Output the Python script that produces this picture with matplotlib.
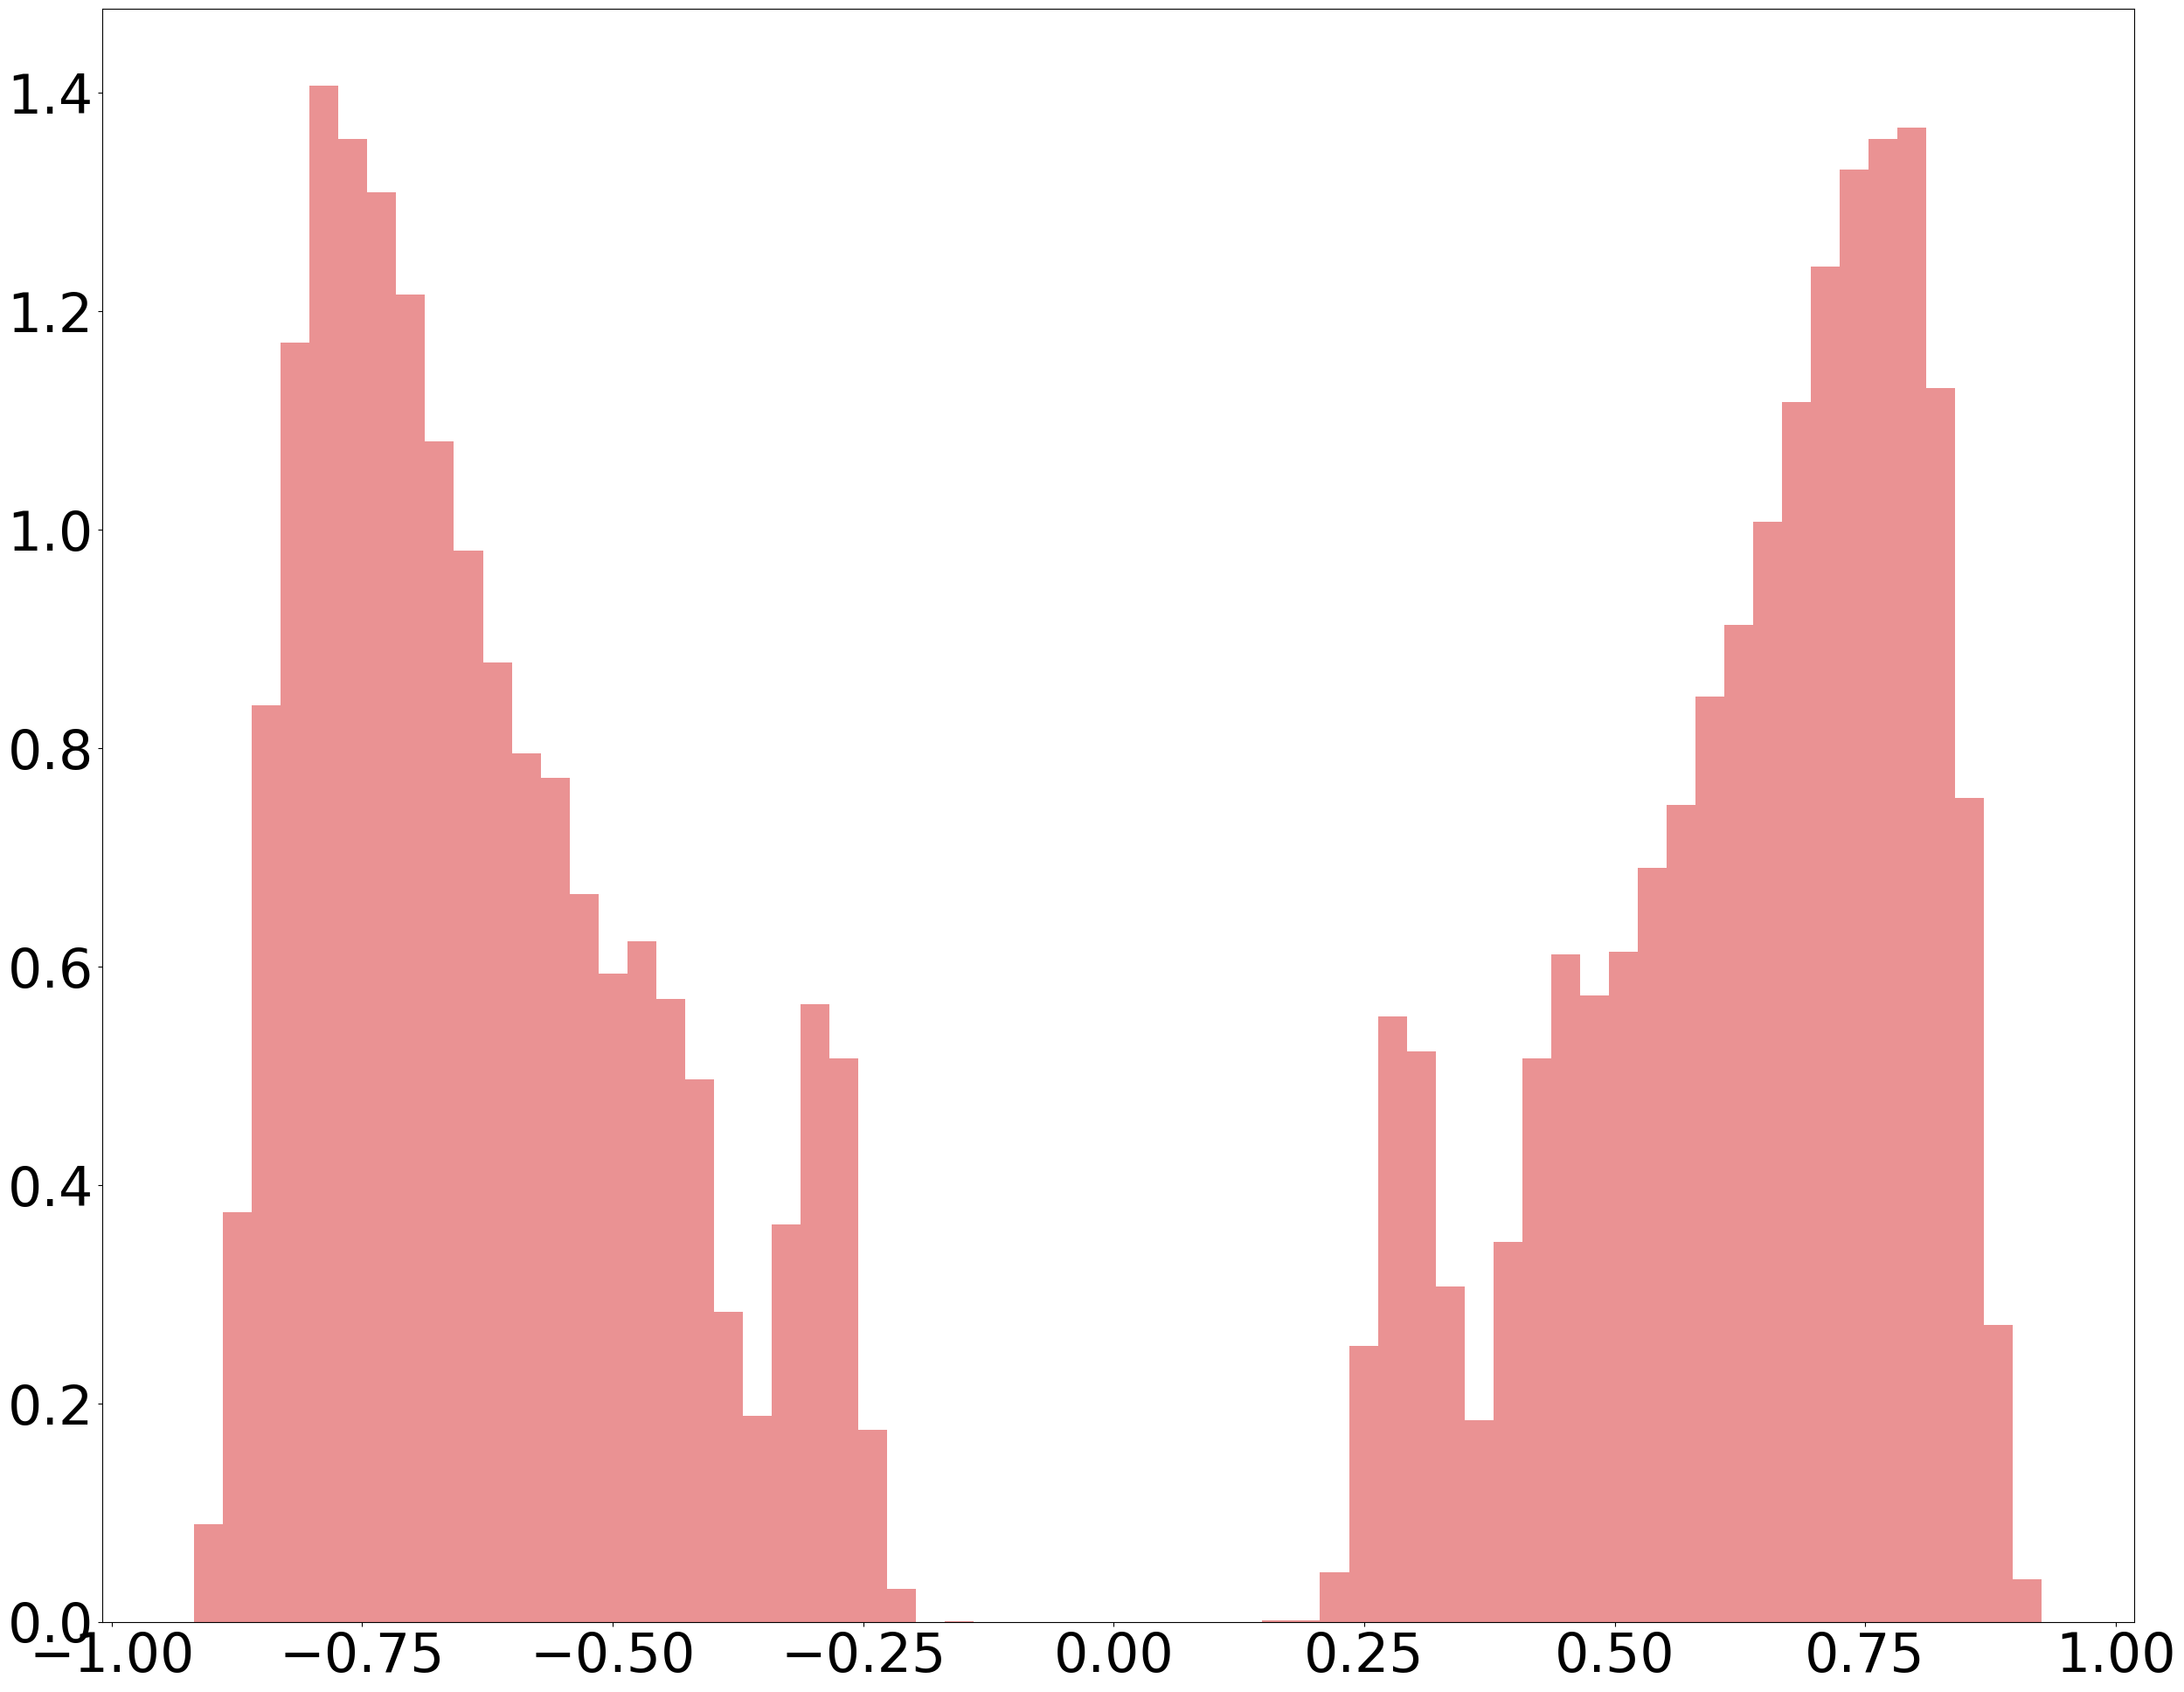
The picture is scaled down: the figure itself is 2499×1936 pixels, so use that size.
import numpy as np
import matplotlib
matplotlib.use("Agg")
import matplotlib.pyplot as plt

# histogram bin layout (64 equal bins)
bin_low = -0.9176
bin_high = 0.9263
n_bins = 64

# density value of each bin
density = [
    0.0898, 0.375, 0.839, 1.171, 1.4065, 1.3576, 1.3087, 1.2152, 1.081, 0.981,
    0.8783, 0.7954, 0.7729, 0.6668, 0.5933, 0.6231, 0.5707, 0.4972, 0.2844, 0.1889,
    0.3639, 0.5654, 0.5164, 0.1757, 0.0306, 0.0, 0.0012, 0.0, 0.0, 0.0,
    0.0, 0.0, 0.0, 0.0, 0.0, 0.0, 0.0, 0.0015, 0.0015, 0.0457,
    0.2526, 0.5548, 0.5223, 0.3076, 0.1849, 0.3480, 0.5164, 0.6112, 0.5740, 0.6140,
    0.6908, 0.7480, 0.8470, 0.9132, 1.0071, 1.1166, 1.2409, 1.3298, 1.3576, 1.3680,
    1.1298, 0.7548, 0.272, 0.0392,
]

edges = np.linspace(bin_low, bin_high, n_bins + 1)

fig = plt.figure(figsize=(24.99, 19.36), dpi=100)
ax = fig.add_axes([116.5 / 2499, 1 - 1856 / 1936, (2442 - 116.5) / 2499, (1856 - 10) / 1936])
ax.hist(edges[:-1], bins=edges, weights=density, color="tab:red", alpha=0.5)
ax.tick_params(labelsize=44.5)

fig.savefig("out.png", dpi=100)
